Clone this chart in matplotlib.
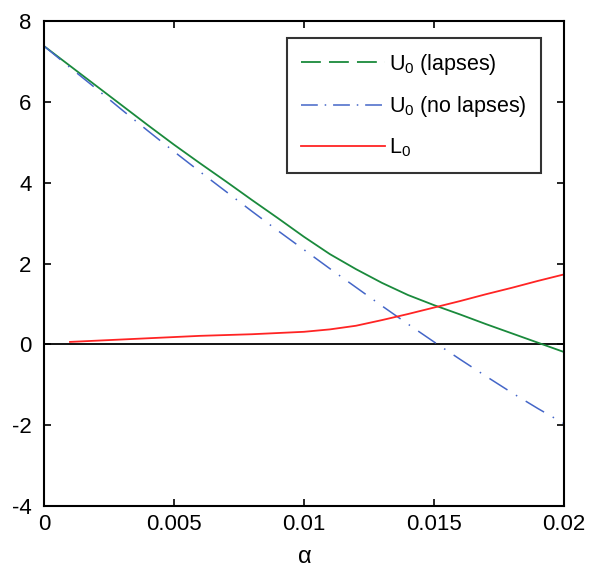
import numpy as np
import matplotlib
matplotlib.use('Agg')
import matplotlib.pyplot as plt
from matplotlib.lines import Line2D

plt.rcParams['font.family'] = ['Liberation Sans', 'DejaVu Sans']
plt.rcParams['mathtext.default'] = 'regular'
plt.rcParams['axes.unicode_minus'] = False

# alpha grid
alpha = [0, 0.001, 0.002, 0.003, 0.004, 0.005, 0.006, 0.007, 0.008, 0.009, 0.010,
         0.011, 0.012, 0.013, 0.014, 0.015, 0.016, 0.017, 0.018, 0.019, 0.020]
# U0 with lapses
u0_lapses = [7.38, 6.89, 6.40, 5.91, 5.42, 4.94, 4.48, 4.03, 3.57, 3.12, 2.66,
             2.23, 1.86, 1.52, 1.22, 0.97, 0.74, 0.50, 0.27, 0.04, -0.19]
# U0 no lapses
u0_nolapses = [7.38, 6.85, 6.33, 5.80, 5.28, 4.77, 4.27, 3.78, 3.29, 2.81, 2.34,
               1.87, 1.41, 0.95, 0.50, 0.06, -0.37, -0.79, -1.20, -1.59, -1.96]
# L0 (starts at alpha=0.001)
l0_alpha = [0.001, 0.002, 0.003, 0.004, 0.005, 0.006, 0.007, 0.008, 0.009, 0.010,
            0.011, 0.012, 0.013, 0.014, 0.015, 0.016, 0.017, 0.018, 0.019, 0.020]
l0 = [0.06, 0.09, 0.12, 0.15, 0.18, 0.21, 0.23, 0.25, 0.28, 0.31,
      0.37, 0.46, 0.60, 0.75, 0.91, 1.07, 1.24, 1.40, 1.57, 1.73]

green = '#1a8a3c'
blue = '#4466c8'
red = '#ff2424'

fig = plt.figure(figsize=(5.93, 5.78), dpi=100)
ax = fig.add_axes([44/593, 1 - 506/578, 520/593, 485/578])

ax.axhline(0, color='black', lw=1.3)
ax.plot(alpha, u0_lapses, color=green, lw=1.3)
ax.plot(alpha, u0_nolapses, color=blue, lw=1.1, dashes=(14, 6.5, 1, 6.5))
ax.plot(l0_alpha, l0, color=red, lw=1.3)

ax.set_xlim(0, 0.02)
ax.set_ylim(-4, 8)
ax.set_xticks([0, 0.005, 0.01, 0.015, 0.02])
ax.set_xticklabels(['0', '0.005', '0.01', '0.015', '0.02'])
ax.set_yticks([-4, -2, 0, 2, 4, 6, 8])
ax.tick_params(direction='in', top=True, right=True, length=5, width=1.2,
               labelsize=16, colors='black')
ax.tick_params(axis='y', pad=9)
ax.tick_params(axis='x', pad=6)
for s in ax.spines.values():
    s.set_linewidth(1.5)
ax.set_xlabel(r'$\alpha$', fontsize=17, labelpad=8)

handles = [Line2D([], [], color=green, lw=1.3, dashes=(11, 4.5)),
           Line2D([], [], color=blue, lw=1.1, dashes=(11, 4.5, 1, 4.5)),
           Line2D([], [], color=red, lw=1.3)]
labels = ['U$_0$ (lapses)', 'U$_0$ (no lapses)', 'L$_0$']
leg = ax.legend(handles, labels, loc='upper right', bbox_to_anchor=(0.955, 0.965),
                fontsize=15.5, frameon=True, fancybox=False, edgecolor='black',
                handlelength=3.9, handletextpad=0.2, labelspacing=0.8,
                borderpad=0.65, borderaxespad=0)
leg.get_frame().set_linewidth(1.5)

fig.savefig('out.png', dpi=100)
